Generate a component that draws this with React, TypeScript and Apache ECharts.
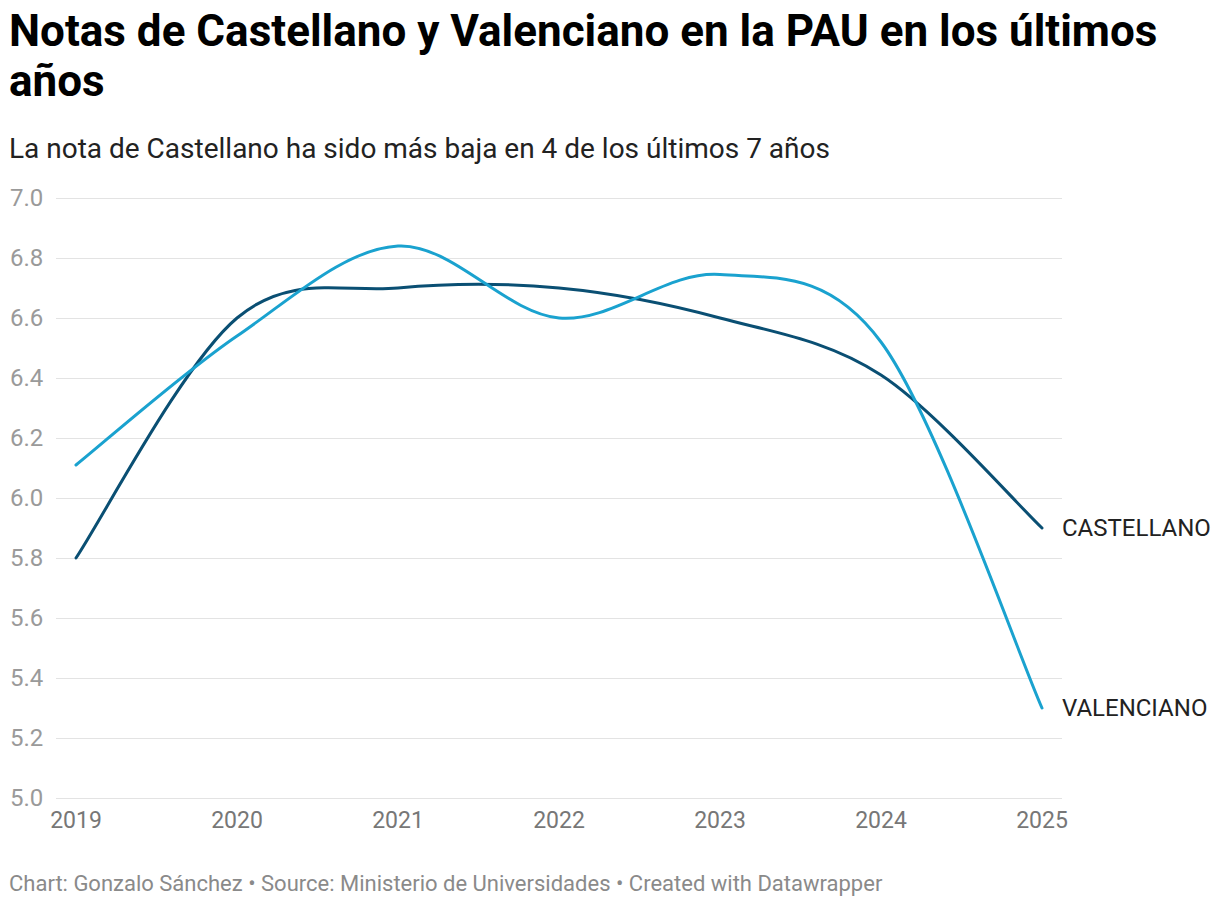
import React, { useEffect, useRef } from "react";
import * as echarts from "echarts";

const years = [2019, 2020, 2021, 2022, 2023, 2024, 2025];
const castellano = [5.8, 6.6, 6.7, 6.7, 6.6, 6.41, 5.9];
const valenciano = [6.11, 6.54, 6.84, 6.6, 6.745, 6.52, 5.3];
const yTicks = [5.0, 5.2, 5.4, 5.6, 5.8, 6.0, 6.2, 6.4, 6.6, 6.8, 7.0];
const seriesNames = ["CASTELLANO", "VALENCIANO"];
const seriesColors = ["#0a4f73", "#1aa2cf"];

const FONT = "Roboto, 'Noto Sans', sans-serif";

// cardinal spline (tension 0, i.e. uniform Catmull-Rom) through pixel points
function cardinalPath(pts: number[][]) {
  const n = pts.length;
  const P = (i: number) => pts[Math.max(0, Math.min(n - 1, i))];
  let d = `M${pts[0][0]},${pts[0][1]}`;
  for (let i = 0; i < n - 1; i++) {
    const p0 = P(i - 1), p1 = P(i), p2 = P(i + 1), p3 = P(i + 2);
    const c1x = p1[0] + (p2[0] - p0[0]) / 6;
    const c1y = p1[1] + (p2[1] - p0[1]) / 6;
    const c2x = p2[0] - (p3[0] - p1[0]) / 6;
    const c2y = p2[1] - (p3[1] - p1[1]) / 6;
    d += `C${c1x},${c1y},${c2x},${c2y},${p2[0]},${p2[1]}`;
  }
  return d;
}

function makeSeries(name: string, values: number[], color: string) {
  return {
    name,
    type: "custom",
    data: years.map((y, i) => [y, values[i]]),
    encode: { x: 0, y: 1 },
    clip: false,
    renderItem: (params: any, api: any) => {
      if (params.dataIndex !== 0) return null;
      const pts = years.map((y, i) => api.coord([y, values[i]]));
      const last = pts[pts.length - 1];
      return {
        type: "group",
        children: [
          {
            type: "path",
            shape: { pathData: cardinalPath(pts) },
            style: { stroke: color, lineWidth: 3, fill: "none", lineCap: "round", lineJoin: "round" },
          },
          {
            type: "text",
            x: last[0] + 20,
            y: last[1],
            style: {
              text: name,
              fill: "#222",
              font: `24px ${FONT}`,
              verticalAlign: "middle",
              align: "left",
            },
          },
        ],
      };
    },
  };
}

export default function App() {
  const ref = useRef<HTMLDivElement>(null);
  useEffect(() => {
    document.body.style.margin = "0";
    if (!ref.current) return;
    const chart = echarts.init(ref.current, null, { renderer: "svg" });
    const pad = 20 / 161;
    chart.setOption({
      animation: false,
      textStyle: { fontFamily: FONT },
      title: [
        {
          text: "Notas de Castellano y Valenciano en la PAU en los últimos\naños",
          left: 4,
          top: 1,
          textStyle: { fontFamily: FONT, fontSize: 44, fontWeight: "bold", color: "#000", lineHeight: 50 },
        },
        {
          text: "La nota de Castellano ha sido más baja en 4 de los últimos 7 años",
          left: 4,
          top: 129,
          textStyle: { fontFamily: FONT, fontSize: 28, fontWeight: "normal", color: "#222" },
        },
        {
          text: "Chart: Gonzalo Sánchez • Source: Ministerio de Universidades • Created with Datawrapper",
          left: 4,
          top: 867,
          textStyle: { fontFamily: FONT, fontSize: 22, fontWeight: "normal", color: "#8a8a8a" },
        },
      ],
      grid: { left: 56, right: 158, top: 198, bottom: 116 },
      xAxis: {
        type: "value",
        min: years[0] - pad,
        max: years[years.length - 1] + pad,
        axisLine: { show: false },
        axisTick: { show: false },
        splitLine: { show: false },
        axisLabel: {
          customValues: years,
          formatter: (v: number) => String(Math.round(v)),
          color: "#777",
          fontSize: 23,
          margin: 11,
          fontFamily: FONT,
        },
      },
      yAxis: {
        type: "value",
        min: yTicks[0],
        max: yTicks[yTicks.length - 1],
        interval: 0.2,
        axisLine: { show: false },
        axisTick: { show: false },
        splitLine: { lineStyle: { color: "#e3e3e3", width: 1 } },
        axisLabel: {
          formatter: (v: number) => v.toFixed(1),
          color: "#9a9a9a",
          fontSize: 24,
          align: "left",
          margin: 46,
          fontFamily: FONT,
        },
      },
      series: [
        makeSeries(seriesNames[0], castellano, seriesColors[0]),
        makeSeries(seriesNames[1], valenciano, seriesColors[1]),
      ],
    });
    return () => chart.dispose();
  }, []);
  return <div ref={ref} style={{ width: 1220, height: 914 }} />;
}
